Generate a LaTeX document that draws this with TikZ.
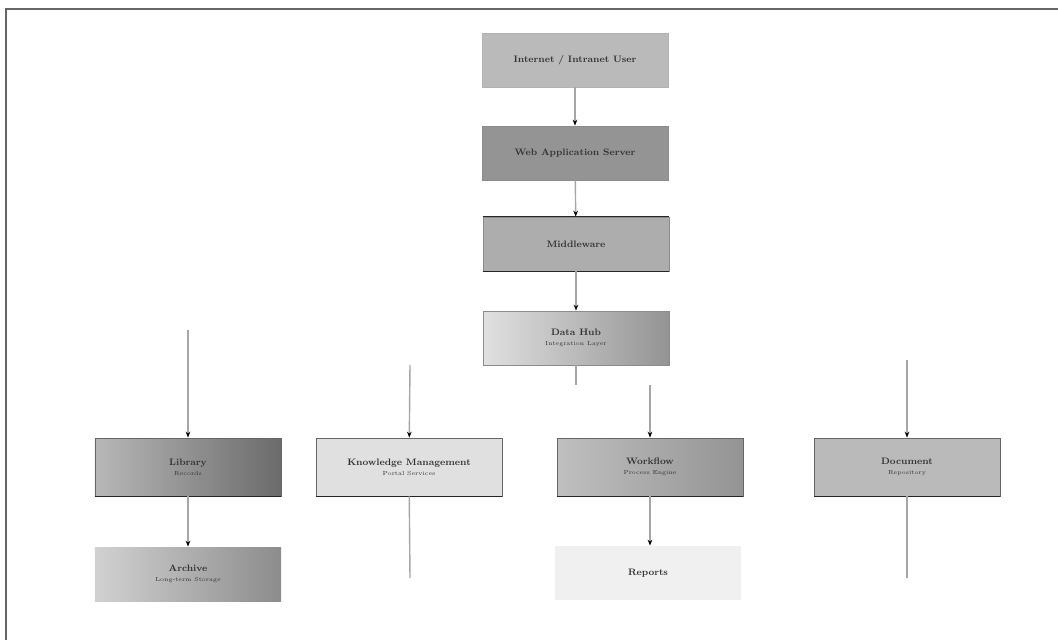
\documentclass[tikz,border=0pt]{standalone}
\usetikzlibrary{arrows.meta, positioning, calc}
\usepackage{xcolor}

\begin{document}
\begin{tikzpicture}[x=0.03cm, y=-0.03cm,
      comp/.style={draw=black!60, rectangle, line width=0.8pt,
                   minimum width=5.58cm, minimum height=1.62cm,
                   align=center, font=\footnotesize\bfseries, text=black!80},
      arr/.style={-{Stealth[length=5pt, width=4pt, color=black]}, black!35, line width=1.2pt},
      lne/.style={black!35, line width=1.2pt},
      edge/.style={line width=1.6pt, black!85}
    ]
    \useasboundingbox (0,0) rectangle (1058,640);
    \draw[black!60, line width=1pt] (6,640) -- (6,9) -- (1058,9);

    \node[comp, fill=black!27, draw=black!30] (user) at (575, 60)  {Internet / Intranet User};
    \node[comp, fill=black!42, draw=black!45] (web)  at (575,153)  {Web Application Server};
    \node[comp, fill=black!32, draw=black!45] (mw)   at (576,244)  {Middleware};
    \node[comp, left color=black!12, right color=black!42, draw=black!45] (hub) at (576,338)
          {Data Hub\\[-1pt]{\tiny\mdseries Integration Layer}};

    \node[comp, left color=black!28, right color=black!58, minimum height=1.74cm] (lib) at (188,467)
          {Library\\[-1pt]{\tiny\mdseries Records}};
    \node[comp, fill=black!12, minimum height=1.74cm] (km)  at (409,467)
          {Knowledge Management\\[-1pt]{\tiny\mdseries Portal Services}};
    \node[comp, left color=black!25, right color=black!42, minimum height=1.74cm] (wf) at (650,467)
          {Workflow\\[-1pt]{\tiny\mdseries Process Engine}};
    \node[comp, fill=black!27, minimum height=1.74cm] (doc) at (907,467)
          {Document\\[-1pt]{\tiny\mdseries Repository}};

    \node[comp, left color=black!18, right color=black!45, draw=none] (arch) at (188,574)
          {Archive\\[-1pt]{\tiny\mdseries Long-term Storage}};
    \node[comp, fill=black!6, draw=none] (rep) at (648,573) {Reports};

    % dark edges
    \draw[edge] (mw.north west) -- (mw.north east);
    \draw[edge] (mw.south west) -- (mw.south east);
    \foreach \b in {lib, km, wf, doc}
      \draw[edge] (\b.south west) -- (\b.south east);

    % free ends
    \coordinate (libin) at (188,330);
    \coordinate (kmin)  at (410,365);
    \coordinate (wfin)  at (650,385);
    \coordinate (docin) at (907,360);
    \coordinate (hubout) at (576,385);
    \coordinate (kmout) at (410,578);
    \coordinate (docout) at (907,578);

    \draw[arr] (user) -- (web);
    \draw[arr] (web)  -- (mw);
    \draw[arr] (mw)   -- (hub);
    \draw[lne] (hub)  -- (hubout);

    \draw[arr] (libin) -- (lib);
    \draw[arr] (kmin)  -- (km);
    \draw[arr] (wfin)  -- (wf);
    \draw[arr] (docin) -- (doc);

    \draw[arr] (lib) -- (arch);
    \draw[lne] (km)  -- (kmout);
    \draw[arr] (wf.south) -- (wf.south |- rep.north);
    \draw[lne] (doc) -- (docout);
  \end{tikzpicture}
\end{document}
